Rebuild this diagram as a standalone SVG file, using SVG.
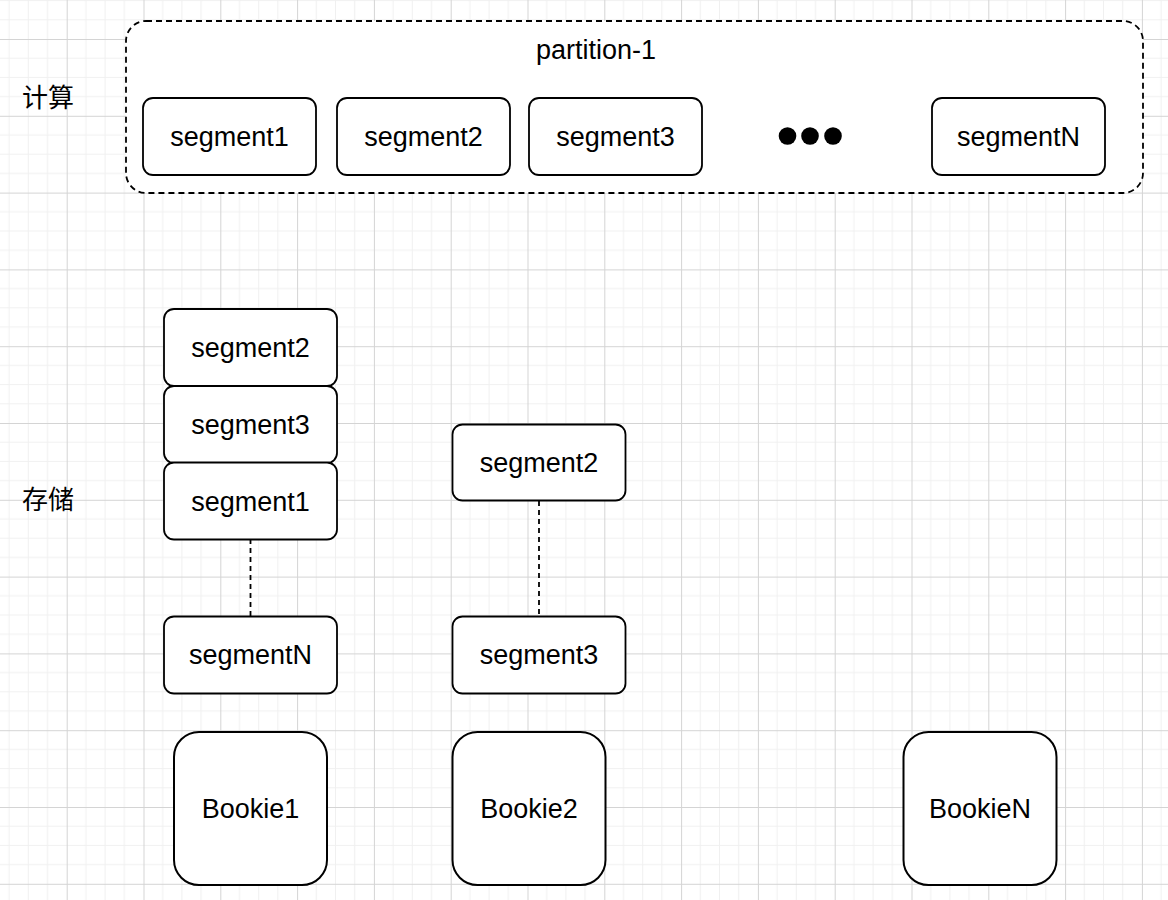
<svg xmlns="http://www.w3.org/2000/svg" width="1168" height="900" viewBox="0 0 1168 900">
  <defs>
    <pattern id="grid" patternUnits="userSpaceOnUse" x="-10.1" y="-37.8" width="76.8" height="76.8">
      <g stroke="#f0f0f0" stroke-width="1" fill="none">
        <line x1="19.2" y1="0" x2="19.2" y2="76.8"/>
        <line x1="38.4" y1="0" x2="38.4" y2="76.8"/>
        <line x1="57.6" y1="0" x2="57.6" y2="76.8"/>
        <line x1="0" y1="19.2" x2="76.8" y2="19.2"/>
        <line x1="0" y1="38.4" x2="76.8" y2="38.4"/>
        <line x1="0" y1="57.6" x2="76.8" y2="57.6"/>
      </g>
      <g stroke="#d4d4d4" stroke-width="1" fill="none">
        <line x1="0.5" y1="0" x2="0.5" y2="76.8"/>
        <line x1="0" y1="0.5" x2="76.8" y2="0.5"/>
      </g>
    </pattern>
  </defs>
  <style>
    .box { fill: #ffffff; stroke: #000000; stroke-width: 1.8; }
    .bookie { fill: #ffffff; stroke: #000000; stroke-width: 2; }
    .cont { fill: #ffffff; stroke: #000000; stroke-width: 1.8; stroke-dasharray: 6 4; }
    .lbl { font-family: "Liberation Sans", Arial, sans-serif; font-size: 27px; fill: #000000; text-anchor: middle; }
    .cjk { font-family: "Noto Sans CJK SC", "Noto Sans", sans-serif; font-size: 26px; fill: #000000; text-anchor: middle; }
    .conn { stroke: #000000; stroke-width: 1.8; stroke-dasharray: 5 4; fill: none; }
  </style>
  <rect x="0" y="0" width="1168" height="900" fill="#ffffff"/>
  <rect x="0" y="0" width="1168" height="900" fill="url(#grid)"/>

  <g id="label-compute"><text class="cjk" x="48" y="107">计算</text></g>
  <g id="label-storage"><text class="cjk" x="48" y="509">存储</text></g>

  <g id="partition-1">
    <rect class="cont" x="126" y="21" width="1017" height="172" rx="20"/>
    <text class="lbl" x="596" y="59">partition-1</text>
  </g>

  <g id="top-segment1"><rect class="box" x="143" y="98" width="173" height="77" rx="10"/><text class="lbl" x="229.5" y="145.5">segment1</text></g>
  <g id="top-segment2"><rect class="box" x="337" y="98" width="173" height="77" rx="10"/><text class="lbl" x="423.5" y="145.5">segment2</text></g>
  <g id="top-segment3"><rect class="box" x="529" y="98" width="173" height="77" rx="10"/><text class="lbl" x="615.5" y="145.5">segment3</text></g>
  <g id="top-dots" fill="#000000">
    <circle cx="787.5" cy="136" r="8.8"/>
    <circle cx="810" cy="136" r="8.8"/>
    <circle cx="833" cy="136" r="8.8"/>
  </g>
  <g id="top-segmentN"><rect class="box" x="932" y="98" width="173" height="77" rx="10"/><text class="lbl" x="1018.5" y="145.5">segmentN</text></g>

  <g id="connectors">
    <line class="conn" x1="250.5" y1="539" x2="250.5" y2="616"/>
    <line class="conn" x1="539" y1="501" x2="539" y2="616"/>
  </g>

  <g id="b1-segment2"><rect class="box" x="164" y="309" width="173" height="77" rx="10"/><text class="lbl" x="250.5" y="356.5">segment2</text></g>
  <g id="b1-segment3"><rect class="box" x="164" y="386" width="173" height="77" rx="10"/><text class="lbl" x="250.5" y="433.5">segment3</text></g>
  <g id="b1-segment1"><rect class="box" x="164" y="462.5" width="173" height="77" rx="10"/><text class="lbl" x="250.5" y="510.5">segment1</text></g>
  <g id="b1-segmentN"><rect class="box" x="164" y="616.5" width="173" height="77" rx="10"/><text class="lbl" x="250.5" y="663.5">segmentN</text></g>

  <g id="b2-segment2"><rect class="box" x="452.5" y="424.5" width="173" height="76" rx="10"/><text class="lbl" x="539" y="471.5">segment2</text></g>
  <g id="b2-segment3"><rect class="box" x="452.5" y="616.5" width="173" height="77" rx="10"/><text class="lbl" x="539" y="663.5">segment3</text></g>

  <g id="bookie1"><rect class="bookie" x="174" y="732" width="153" height="153" rx="25"/><text class="lbl" x="250.5" y="817.5">Bookie1</text></g>
  <g id="bookie2"><rect class="bookie" x="452.5" y="732" width="153" height="153" rx="25"/><text class="lbl" x="529" y="817.5">Bookie2</text></g>
  <g id="bookieN"><rect class="bookie" x="903.5" y="732" width="153" height="153" rx="25"/><text class="lbl" x="980" y="817.5">BookieN</text></g>
</svg>
